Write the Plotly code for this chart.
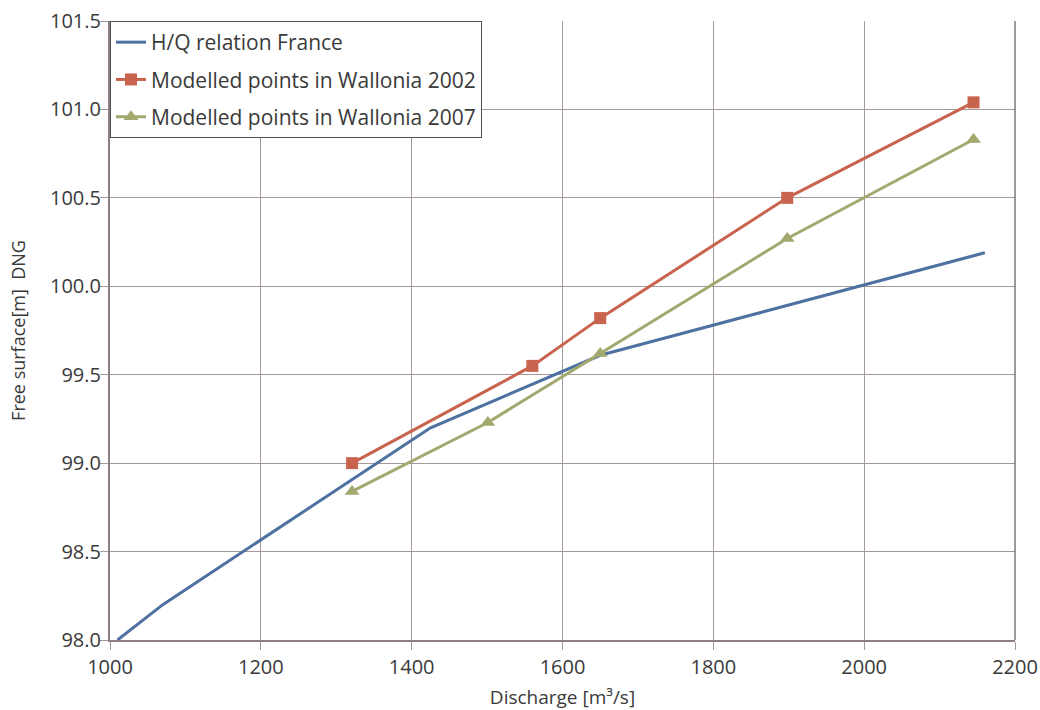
import plotly.graph_objects as go

# H/Q relation France
fr_q = [1010, 1070, 1425, 1650, 2160]
fr_h = [98.0, 98.2, 99.2, 99.61, 100.19]

# Modelled points in Wallonia 2002
w02_q = [1321, 1560, 1650, 1898, 2145]
w02_h = [99.0, 99.55, 99.82, 100.5, 101.04]

# Modelled points in Wallonia 2007
w07_q = [1321, 1501, 1650, 1898, 2145]
w07_h = [98.84, 99.23, 99.62, 100.27, 100.83]

x_ticks = [1000, 1200, 1400, 1600, 1800, 2000, 2200]
y_ticks = [98.0, 98.5, 99.0, 99.5, 100.0, 100.5, 101.0, 101.5]

BLUE = "#4d71a0"
RED = "#c8644e"
GREEN = "#a3a86f"
FONT = "Open Sans"
TXT = "#3a3a3a"
GRID = "#a59898"
AXIS = "#8e8080"

fig = go.Figure()
fig.add_trace(go.Scatter(x=fr_q, y=fr_h, mode="lines", name="H/Q relation France",
                         line=dict(color=BLUE, width=3), legendgroup="a"))
fig.add_trace(go.Scatter(x=w02_q, y=w02_h, mode="lines+markers",
                         name="Modelled points in Wallonia 2002",
                         line=dict(color=RED, width=3),
                         marker=dict(symbol="square", size=12, color=RED),
                         legendgroup="b"))
fig.add_trace(go.Scatter(x=w07_q, y=w07_h, mode="lines+markers",
                         name="Modelled points in Wallonia 2007",
                         line=dict(color=GREEN, width=3),
                         marker=dict(symbol="triangle-up", size=13, color=GREEN),
                         legendgroup="c"))

fig.update_layout(
    width=1040, height=710,
    margin=dict(l=110, r=25, t=21, b=70),
    paper_bgcolor="white", plot_bgcolor="white",
    font=dict(family=FONT, size=20, color=TXT),
    showlegend=True,
    legend=dict(x=0, y=1, xanchor="left", yanchor="top",
                bgcolor="white", bordercolor="#505050", borderwidth=1,
                font=dict(family=FONT, size=21, color=TXT),
                traceorder="grouped", tracegroupgap=7,
                itemwidth=30),
    xaxis=dict(range=[1000, 2200], tickvals=x_ticks, ticktext=[str(v) for v in x_ticks],
               showgrid=True, gridcolor=GRID, gridwidth=1,
               showline=True, linecolor=AXIS, linewidth=2,
               ticks="outside", ticklen=8, tickcolor=GRID,
               tickfont=dict(family=FONT, size=20, color=TXT),
               zeroline=False, automargin=False,
               title=dict(text="Discharge [m³/s]", standoff=14,
                          font=dict(family=FONT, size=19, color=TXT))),
    yaxis=dict(range=[98.0, 101.5], tickvals=y_ticks, ticktext=[f"{v:.1f}" for v in y_ticks],
               showgrid=True, gridcolor=GRID, gridwidth=1,
               showline=True, linecolor=AXIS, linewidth=2,
               ticks="outside", ticklen=8, tickcolor=GRID,
               ticklabelstandoff=-5,
               tickfont=dict(family=FONT, size=20, color=TXT),
               zeroline=False, automargin=False,
               title=dict(text="Free surface[m]  DNG", standoff=20,
                          font=dict(family=FONT, size=18, color=TXT))),
)

fig.add_shape(type="line", xref="paper", yref="paper", x0=1, x1=1, y0=0, y1=1,
              line=dict(color="#3a3a3a", width=1))

fig.write_html("out.html")
